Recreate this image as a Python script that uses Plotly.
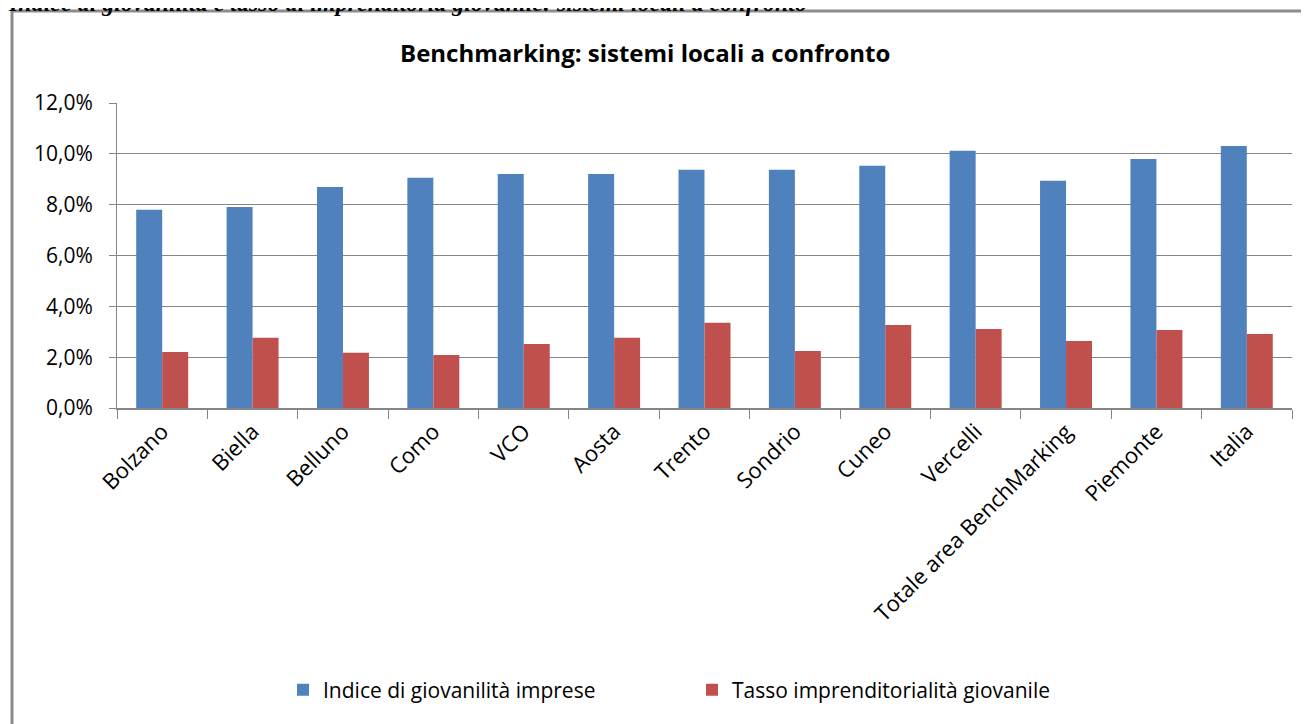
import plotly.graph_objects as go

categories = ["Bolzano", "Biella", "Belluno", "Como", "VCO", "Aosta", "Trento",
              "Sondrio", "Cuneo", "Vercelli", "Totale area BenchMarking", "Piemonte", "Italia"]
indice_giovanilita = [7.80, 7.91, 8.70, 9.06, 9.21, 9.21, 9.37, 9.37, 9.53, 10.12, 8.94, 9.80, 10.31]
tasso_imprenditorialita = [2.20, 2.76, 2.17, 2.09, 2.52, 2.76, 3.35, 2.24, 3.27, 3.11, 2.64, 3.07, 2.91]
y_ticks = [0, 2, 4, 6, 8, 10, 12]
y_ticktext = ["0,0%", "2,0%", "4,0%", "6,0%", "8,0%", "10,0%", "12,0%"]

# page body has an 8px margin: figure pixel = window pixel - 8
OFF = 8
W, H = 1309 - OFF, 724 - OFF
L, R, T, B = 117 - OFF, 17, 103 - OFF, 316
pw, ph = W - L - R, H - T - B

def px_x(x):  # x in window pixels
    return (x - OFF - L) / pw

def px_y(y):  # y in window pixels
    return (H - B - (y - OFF)) / ph

FONT = "Open Sans"
GRID = "#868686"

fig = go.Figure()
fig.add_trace(go.Bar(x=categories, y=indice_giovanilita, name="Indice di giovanilità imprese",
                     marker=dict(color="#4F81BD", line=dict(width=0))))
fig.add_trace(go.Bar(x=categories, y=tasso_imprenditorialita, name="Tasso imprenditorialità giovanile",
                     marker=dict(color="#C0504D", line=dict(width=0))))

fig.update_layout(
    width=W, height=H,
    margin=dict(l=L, r=R, t=T, b=B, pad=0),
    paper_bgcolor="white", plot_bgcolor="white",
    barmode="group", bargap=0.425, bargroupgap=0,
    separators=",.",
    font=dict(family=FONT, color="black", size=20),
    showlegend=True,
    legend=dict(orientation="h", x=px_x(283), y=px_y(690), xanchor="left", yanchor="middle",
                font=dict(family=FONT, size=21, color="black"),
                entrywidth=364, entrywidthmode="pixels", traceorder="normal",
                bgcolor="rgba(0,0,0,0)"),
)

fig.update_xaxes(
    type="category", tickangle=-45, tickson="boundaries", ticks="outside", ticklen=9,
    tickcolor=GRID, tickwidth=1, showline=True, linecolor=GRID, linewidth=2,
    tickfont=dict(family=FONT, size=22, color="black"), showgrid=False,
)
fig.update_yaxes(
    range=[0, 12], tickvals=y_ticks, ticktext=y_ticktext,
    ticks="outside", ticklen=7, tickcolor=GRID, tickwidth=1, ticklabelstandoff=12,
    showline=True, linecolor=GRID, linewidth=1,
    showgrid=True, gridcolor=GRID, gridwidth=1, zeroline=False,
    tickfont=dict(family=FONT, size=21, color="black"),
)

# title
fig.add_annotation(text="<b>Benchmarking: sistemi locali a confronto</b>", xref="paper", yref="paper",
                   x=px_x(645), y=px_y(52), xanchor="center", yanchor="middle", showarrow=False,
                   font=dict(family=FONT, size=24, color="black"))

# caption at top (partially cut off by the window edge)
fig.add_annotation(text="<b><i>Indice di giovanilità e tasso di imprenditoria giovanile: sistemi locali a confronto</i></b>",
                   xref="paper", yref="paper", x=px_x(6), y=px_y(3), xanchor="left", yanchor="middle",
                   showarrow=False, font=dict(family="Liberation Serif", size=24, color="black"))

# outer frame (right and bottom edges fall outside the window)
fig.add_shape(type="rect", xref="paper", yref="paper",
              x0=px_x(12), x1=px_x(1314), y0=px_y(728), y1=px_y(11),
              line=dict(color="#8c8c8c", width=3), fillcolor="rgba(0,0,0,0)", layer="below")

fig.write_html("out.html")
